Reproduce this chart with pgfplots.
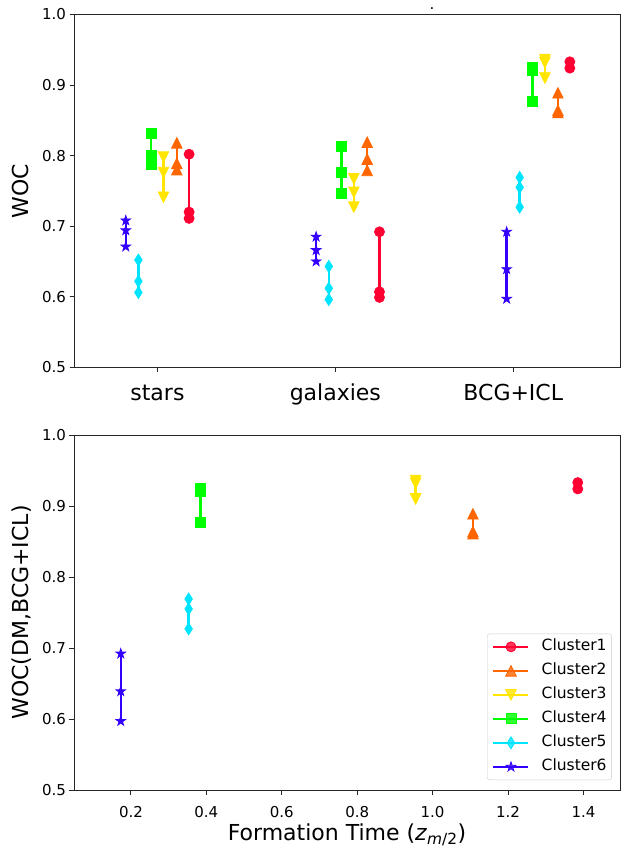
\documentclass[border=0pt]{standalone}
\usepackage{fontspec}
\setmainfont{DejaVu Sans}
\usepackage{pgfplots}
\pgfplotsset{compat=1.18}
\usetikzlibrary{plotmarks}

\definecolor{cA}{HTML}{FF0033}
\definecolor{cB}{HTML}{FF6600}
\definecolor{cC}{HTML}{FFE500}
\definecolor{cD}{HTML}{00FF00}
\definecolor{cE}{HTML}{00E5FF}
\definecolor{cF}{HTML}{3300FF}

% matplotlib-like markers
\pgfdeclareplotmark{mtriup}{%
  \pgfpathmoveto{\pgfqpoint{0pt}{1.05\pgfplotmarksize}}%
  \pgfpathlineto{\pgfqpoint{-1.05\pgfplotmarksize}{-1.05\pgfplotmarksize}}%
  \pgfpathlineto{\pgfqpoint{1.05\pgfplotmarksize}{-1.05\pgfplotmarksize}}%
  \pgfpathclose\pgfusepathqfillstroke}
\pgfdeclareplotmark{mtridown}{%
  \pgfpathmoveto{\pgfqpoint{0pt}{-1.05\pgfplotmarksize}}%
  \pgfpathlineto{\pgfqpoint{-1.05\pgfplotmarksize}{1.05\pgfplotmarksize}}%
  \pgfpathlineto{\pgfqpoint{1.05\pgfplotmarksize}{1.05\pgfplotmarksize}}%
  \pgfpathclose\pgfusepathqfillstroke}
\pgfdeclareplotmark{mthind}{%
  \pgfpathmoveto{\pgfqpoint{0pt}{1.2\pgfplotmarksize}}%
  \pgfpathlineto{\pgfqpoint{0.75\pgfplotmarksize}{0pt}}%
  \pgfpathlineto{\pgfqpoint{0pt}{-1.2\pgfplotmarksize}}%
  \pgfpathlineto{\pgfqpoint{-0.75\pgfplotmarksize}{0pt}}%
  \pgfpathclose\pgfusepathqfillstroke}
\pgfdeclareplotmark{mstar}{%
  \pgfpathmoveto{\pgfpointpolar{90}{1.0\pgfplotmarksize}}%
  \pgfpathlineto{\pgfpointpolar{126}{0.382\pgfplotmarksize}}%
  \pgfpathlineto{\pgfpointpolar{162}{1.0\pgfplotmarksize}}%
  \pgfpathlineto{\pgfpointpolar{198}{0.382\pgfplotmarksize}}%
  \pgfpathlineto{\pgfpointpolar{234}{1.0\pgfplotmarksize}}%
  \pgfpathlineto{\pgfpointpolar{270}{0.382\pgfplotmarksize}}%
  \pgfpathlineto{\pgfpointpolar{306}{1.0\pgfplotmarksize}}%
  \pgfpathlineto{\pgfpointpolar{342}{0.382\pgfplotmarksize}}%
  \pgfpathlineto{\pgfpointpolar{18}{1.0\pgfplotmarksize}}%
  \pgfpathlineto{\pgfpointpolar{54}{0.382\pgfplotmarksize}}%
  \pgfpathclose\pgfusepathqfillstroke}

\pgfplotsset{
  cl/.style={color=#1, line width=2.5pt, mark size=5pt,
    mark options={solid, line width=0.8pt, fill=#1, draw=#1}},
  c1/.style={cl=cA, mark=*},
  c2/.style={cl=cB, mark=mtriup},
  c3/.style={cl=cC, mark=mtridown},
  c4/.style={cl=cD, mark=square*},
  c5/.style={cl=cE, mark=mthind},
  c6/.style={cl=cF, mark=mstar},
  panel/.style={
    scale only axis, anchor=south west,
    axis line style={black!85, line width=0.9pt},
    tick style={black!85, line width=0.9pt},
    tick align=outside, major tick length=4.5pt,
    xtick pos=bottom, ytick pos=left,
    ymin=0.5, ymax=1.0, ytick={0.5,0.6,0.7,0.8,0.9,1.0},
    yticklabel style={/pgf/number format/.cd, fixed, fixed zerofill, precision=1},
    /pgf/number format/assume math mode=true,
    tick label style={font=\fontsize{15}{18}\selectfont},
    every axis y label/.style={at={([xshift=-45pt]axis description cs:0,0.5)},
      rotate=90, anchor=base, font=\fontsize{22}{26}\selectfont},
    every axis x label/.style={at={([yshift=-50pt]axis description cs:0.5,0)},
      anchor=base, font=\fontsize{22}{26}\selectfont},
    unbounded coords=jump,
    clip=false,
  },
}

\begin{document}
\begin{tikzpicture}
\useasboundingbox (0,0) rectangle (621pt,848pt);

% top panel
\begin{axis}[panel, at={(74pt,480.7pt)}, width=546pt, height=352.8pt,
  xmin=-0.469, xmax=2.6,
  xtick={0,1,2}, xticklabels={stars,galaxies,BCG+ICL},
  xticklabel style={font=\fontsize{22}{26}\selectfont, anchor=base, yshift=-29pt},
  ylabel={WOC}]
\addplot[c1] coordinates {(0.178,0.802)(0.178,0.720)(0.178,0.711)(0.178,nan)
  (1.248,0.692)(1.248,0.607)(1.248,0.599)(1.248,nan)(2.318,0.933)(2.318,0.924)};
\addplot[c2] coordinates {(0.109,0.818)(0.109,0.789)(0.109,0.780)(0.109,nan)
  (1.179,0.819)(1.179,0.795)(1.179,0.779)(1.179,nan)(2.251,0.889)(2.251,0.864)(2.251,0.861)};
\addplot[c3] coordinates {(0.034,0.798)(0.034,0.776)(0.034,0.741)(0.034,nan)
  (1.104,0.767)(1.104,0.748)(1.104,0.727)(1.104,nan)(2.178,0.936)(2.178,0.932)(2.178,0.910)};
\addplot[c4] coordinates {(-0.035,0.832)(-0.035,0.801)(-0.035,0.787)(-0.035,nan)
  (1.034,0.813)(1.034,0.776)(1.034,0.746)(1.034,nan)(2.107,0.925)(2.107,0.921)(2.107,0.877)};
\addplot[c5] coordinates {(-0.107,0.652)(-0.107,0.622)(-0.107,0.606)(-0.107,nan)
  (0.963,0.643)(0.963,0.612)(0.963,0.596)(0.963,nan)(2.036,0.769)(2.036,0.755)(2.036,0.727)};
\addplot[c6] coordinates {(-0.178,0.708)(-0.178,0.694)(-0.178,0.671)(-0.178,nan)
  (0.892,0.685)(0.892,0.666)(0.892,0.650)(0.892,nan)(1.963,0.692)(1.963,0.639)(1.963,0.597)};
\end{axis}

% bottom panel
\begin{axis}[panel, at={(74pt,58pt)}, width=546pt, height=355pt,
  xmin=0.049, xmax=1.497,
  xtick={0.2,0.4,0.6,0.8,1.0,1.2,1.4},
  xticklabel style={/pgf/number format/.cd, fixed, fixed zerofill, precision=1,
    /tikz/.cd, anchor=base, yshift=-23pt},
  xlabel={Formation Time (\textit{z}\textsubscript{\textit{m}/2})},
  ylabel={WOC(DM,BCG+ICL)},
  legend cell align=left,
  legend image code/.code={\draw[mark repeat=2,mark phase=2] plot coordinates {(0pt,0pt)(17.5pt,0pt)(35pt,0pt)};},
  legend style={at={(0.985,0.028)}, anchor=south east, draw=black!20,
    rounded corners=2.5pt, fill=white, fill opacity=0.8, text opacity=1,
    font=\fontsize{15.5}{18}\selectfont, inner xsep=5pt, inner ysep=6pt,
    row sep=10pt, column sep=12pt,
    nodes={inner sep=0pt, text height=11pt, text depth=3pt}}]
\addplot[c1] coordinates {(1.385,0.933)(1.385,0.924)};
\addlegendentry{Cluster1}
\addplot[c2] coordinates {(1.107,0.889)(1.107,0.864)(1.107,0.861)};
\addlegendentry{Cluster2}
\addplot[c3] coordinates {(0.955,0.936)(0.955,0.932)(0.955,0.910)};
\addlegendentry{Cluster3}
\addplot[c4] coordinates {(0.385,0.925)(0.385,0.921)(0.385,0.877)};
\addlegendentry{Cluster4}
\addplot[c5] coordinates {(0.353,0.769)(0.353,0.755)(0.353,0.727)};
\addlegendentry{Cluster5}
\addplot[c6] coordinates {(0.173,0.692)(0.173,0.639)(0.173,0.597)};
\addlegendentry{Cluster6}
\end{axis}

\node[font=\fontsize{15}{18}\selectfont, anchor=base] at (432pt,838pt) {.};
\end{tikzpicture}
\end{document}
